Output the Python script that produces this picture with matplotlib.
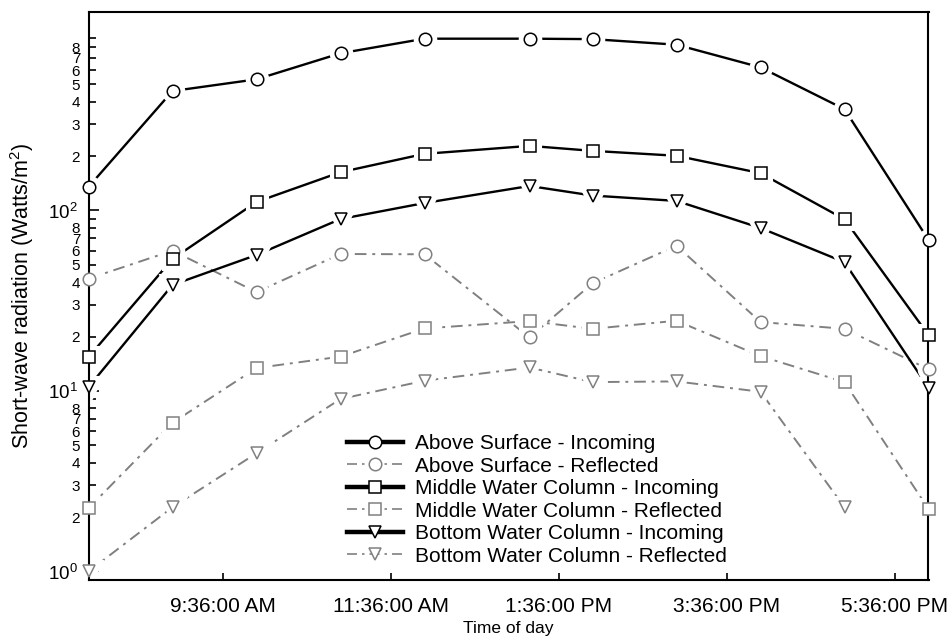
import numpy as np
import matplotlib
matplotlib.use("Agg")
import matplotlib.pyplot as plt
from matplotlib.lines import Line2D
from matplotlib.ticker import FixedLocator, FixedFormatter, NullFormatter

# hours of day for each measurement
hours = [8, 9, 10, 11, 12, 13.25, 14, 15, 16, 17, 18]

above_in = [135, 459, 533, 743, 895, 895, 890, 829, 621, 364, 68.7]
above_ref = [41.9, 59.9, 35.3, 57.4, 57.2, 19.8, 39.5, 63.8, 24.1, 22.1, 13.2]
middle_in = [15.4, 53.9, 111.5, 163, 206, 228, 214, 201, 161, 89.4, 20.4]
middle_ref = [2.24, 6.67, 13.4, 15.5, 22.2, 24.4, 22.1, 24.5, 15.6, 11.2, 2.22]
bottom_in = [10.5, 38.7, 56.7, 89.7, 110, 136.7, 121, 113, 80, 51.7, 10.4]
bottom_ref = [1.0, 2.27, 4.52, 9.03, 11.4, 13.5, 11.2, 11.3, 9.9, 2.27, np.nan]

xtick_pos = [9.6, 11.6, 13.6, 15.6, 17.6]
xtick_labels = ["9:36:00 AM", "11:36:00 AM", "1:36:00 PM", "3:36:00 PM", "5:36:00 PM"]

series = [
    ("Above Surface - Incoming", above_in, "o", "incoming"),
    ("Above Surface - Reflected", above_ref, "o", "reflected"),
    ("Middle Water Column - Incoming", middle_in, "s", "incoming"),
    ("Middle Water Column - Reflected", middle_ref, "s", "reflected"),
    ("Bottom Water Column - Incoming", bottom_in, "v", "incoming"),
    ("Bottom Water Column - Reflected", bottom_ref, "v", "reflected"),
]

plt.rcParams["font.family"] = ["Liberation Sans", "DejaVu Sans"]
plt.rcParams["mathtext.fontset"] = "custom"
plt.rcParams["mathtext.rm"] = "Liberation Sans"

grey = "0.5"
dashdot = (0, (6, 3, 1.5, 3))
styles = {
    "incoming": dict(color="black", ls="-", lw=1.7),
    "reflected": dict(color=grey, ls=dashdot, lw=1.4),
}
msize = {"o": 9, "s": 8.5, "v": 9}

fig = plt.figure(figsize=(9.51, 6.39), dpi=100)
ax = fig.add_axes([88.5 / 951, 1 - 580 / 639, 840 / 951, 568 / 639])

handles = []
for label, vals, mk, kind in series:
    st = styles[kind]
    ax.plot(hours, vals, color=st["color"], ls=st["ls"], lw=st["lw"], zorder=2)
    # white halo gives the small gap between line and marker
    ax.plot(hours, vals, ls="none", marker=mk, ms=msize[mk], mfc="white",
            mec="white", mew=8, zorder=2.1)
    ax.plot(hours, vals, ls="none", marker=mk, ms=msize[mk], mfc="white",
            mec=st["color"], mew=1.1, zorder=3, clip_on=False)
    lw_leg = 3.2 if kind == "incoming" else 1.2
    handles.append(Line2D([], [], color=st["color"], ls=st["ls"], lw=lw_leg,
                          marker=mk, ms=msize[mk], mfc="white",
                          mec=st["color"], mew=1.1, label=label))

ax.set_yscale("log")
ax.set_xlim(8, 18)
ax.set_ylim(0.897, 1258)

ax.set_xticks(xtick_pos)
ax.set_xticklabels(xtick_labels)

ax.yaxis.set_major_locator(FixedLocator([1, 10, 100]))
ax.yaxis.set_major_formatter(FixedFormatter([r"$\mathregular{10^{0}}$",
                                             r"$\mathregular{10^{1}}$",
                                             r"$\mathregular{10^{2}}$"]))
minor_pos = []
minor_lab = []
for dec in [1, 10, 100]:
    for k in range(2, 10):
        minor_pos.append(k * dec)
        minor_lab.append(str(k) if k < 9 else "")
ax.yaxis.set_minor_locator(FixedLocator(minor_pos))
ax.yaxis.set_minor_formatter(FixedFormatter(minor_lab))
ax.xaxis.set_minor_formatter(NullFormatter())

ax.tick_params(axis="x", which="major", direction="in", length=5, width=1.2,
               labelsize=15, pad=12)
ax.tick_params(axis="y", which="major", direction="in", length=7, width=1.2,
               labelsize=13.5, pad=8)
ax.tick_params(axis="y", which="minor", direction="in", length=5, width=1.2,
               labelsize=11, pad=6)
for s in ax.spines.values():
    s.set_linewidth(1.5)

ax.set_xlabel("Time of day", fontsize=12.5, labelpad=4)
ax.set_ylabel(r"Short-wave radiation (Watts/m$\mathregular{^2}$)", fontsize=15.5)
ax.yaxis.set_label_coords(-0.063, 0.5)

ax.legend(handles=handles, loc="upper left", bbox_to_anchor=(347 / 951, 1 - 434 / 639),
          bbox_transform=fig.transFigure, frameon=False, fontsize=15,
          handlelength=2.7, handletextpad=0.55, labelspacing=0.17,
          borderpad=0, borderaxespad=0)

fig.savefig("out.png", dpi=100)
